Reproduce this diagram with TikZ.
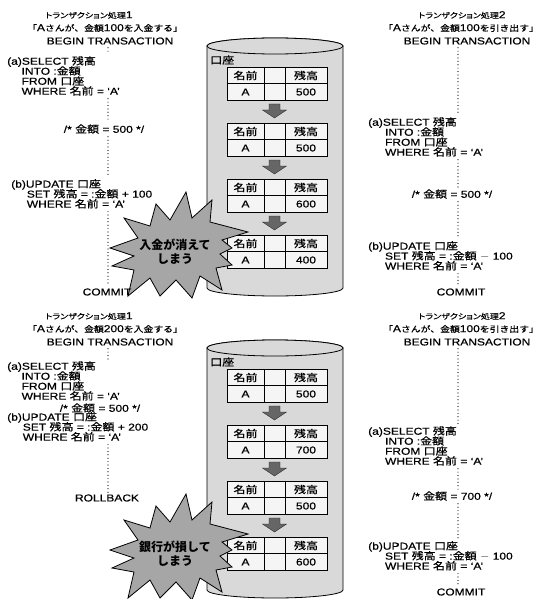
\documentclass[tikz,border=0pt]{standalone}
\usepackage{fontspec}
\setmainfont[FakeBold=0.6]{Liberation Sans}
\newfontfamily\jp[Scale=0.82, FakeBold=0.5]{Noto Sans CJK JP}
\newfontfamily\jpc[FakeBold=0.5]{Noto Sans CJK JP}
\newfontfamily\jpp[RawFeature=+palt, FakeBold=0.5]{Noto Sans CJK JP}
\newfontfamily\jpb{Noto Sans CJK JP}
\newcommand{\jt}[1]{{\jp #1}}
\newcommand{\jc}[1]{{\jpc #1}}
\newcommand{\codefont}{\fontsize{10}{10}\selectfont\lineskiplimit=-20pt\relax}
\begin{document}
\begin{tikzpicture}[x=1pt, y=-1pt,
  wide/.style={transform shape, xscale=1.2},
  code/.style={wide, font=\codefont, align=left, inner sep=0pt, anchor=north west},
  ttl/.style={wide, font=\fontsize{10}{10}\selectfont, inner sep=0pt},
  cell/.style={wide, font=\fontsize{10}{10}\selectfont, inner sep=0pt},
  dots/.style={line width=1.2pt, line cap=round, dash pattern=on 0pt off 3.4pt, shorten <=3pt, shorten >=2pt},
  cyl/.style={draw=black, line width=0.8pt, fill=black!15},
  tbl/.style={draw=black, line width=0.8pt, fill=black!4},
  blk/.style={draw=black!85, fill=black!60, line width=0.4pt},
  burst/.style={draw=black, line width=0.8pt, fill=black!35},
  shout/.style={font=\fontsize{12}{14}\selectfont\jpb\bfseries, align=center, inner sep=0pt}]
  \useasboundingbox (0,0) rectangle (539,599);
  \coordinate (dl) at (108,0);
  \coordinate (dr) at (458,0);
  % accounts table in the database, once per case
  \foreach \s/\va/\vb/\vc/\vd [count=\p] in {0/500/500/600/400, 302/500/700/500/600} {
    \draw[cyl] (207,\s+46) -- (207,\s+288) arc[start angle=180, end angle=360, x radius=68pt, y radius=8pt]
      -- (343,\s+46) arc[start angle=0, end angle=180, x radius=68pt, y radius=8pt] -- cycle;
    \draw[cyl] (275,\s+46) ellipse[x radius=68pt, y radius=8pt];
    \node[cell, anchor=west] (acct\p) at (210,\s+60) {\jc{口座}};
    \foreach \k/\v in {0/\va, 1/\vb, 2/\vc, 3/\vd} {
      \draw[tbl] (227,\s+67+56*\k) rectangle (327,\s+100+56*\k);
      \draw[line width=0.8pt] (227,\s+83.5+56*\k) -- (327,\s+83.5+56*\k)
        (264,\s+67+56*\k) -- (264,\s+100+56*\k) (285,\s+67+56*\k) -- (285,\s+100+56*\k);
      \node[cell] (nm\p\k) at (245.5,\s+75.5+56*\k) {\jc{名前}};
      \node[cell] (bl\p\k) at (306,\s+75.5+56*\k) {\jc{残高}};
      \node[cell] (ka\p\k) at (245.5,\s+92+56*\k) {A};
      \node[cell] (va\p\k) at (306,\s+92+56*\k) {\v};
    }
    \foreach \k in {0,1,2}
      \draw[blk] (269,\s+104+56*\k) -- (280,\s+104+56*\k) -- (280,\s+110+56*\k) -- (286.5,\s+110+56*\k)
        -- (274.5,\s+118+56*\k) -- (262.5,\s+110+56*\k) -- (269,\s+110+56*\k) -- cycle;
    % burst over the last table
    \draw[burst] (110,\s+248) -- (138,\s+238) -- (124,\s+218) -- (150,\s+226) -- (156,\s+204) -- (170,\s+220)
      -- (186,\s+192) -- (192,\s+218) -- (212,\s+200) -- (210,\s+222) -- (248,\s+232) -- (222,\s+240)
      -- (232,\s+248) -- (220,\s+254) -- (232,\s+265) -- (216,\s+268) -- (222,\s+290) -- (200,\s+276)
      -- (192,\s+298) -- (176,\s+280) -- (160,\s+296) -- (150,\s+278) -- (128,\s+296) -- (134,\s+270)
      -- (112,\s+266) -- (134,\s+256) -- cycle;
  }
  \node[shout] (sh1) at (175,252) {入金が消えて\\しまう};
  \node[shout] (sh2) at (175,554) {銀行が損して\\しまう};

  % case 1, transaction 1
  \node[ttl] (t1a) at (89,15) {{\jpp\fontsize{7.5}{10}\selectfont トランザクション処理}1};
  \node[ttl] (t1b) at (105,28) {\jt{「}A\jt{さんが、金額}100\jt{を入金する」}};
  \node[ttl] (t1c) at (110,41) {BEGIN TRANSACTION};
  \node[code] (a1) at (7,56) {(a)SELECT \jc{残高}\\\kern12pt INTO :\jc{金額}\\\kern12pt FROM \jc{口座}\\\kern12pt WHERE \jc{名前} = ‘A’};
  \node[ttl] (c1) at (104,129) {/* \jc{金額} = 500 */};
  \node[code] (b1) at (11,179) {(b)UPDATE \jc{口座}\\\kern13pt SET \jc{残高} = :\jc{金額} + 100\\\kern13pt WHERE \jc{名前} = ‘A’};
  \node[ttl] (cm1) at (107,292) {COMMIT};
  % case 1, transaction 2
  \node[ttl] (t2a) at (462,15) {{\jpp\fontsize{7.5}{10}\selectfont トランザクション処理}2};
  \node[ttl] (t2b) at (461,28) {\jt{「}A\jt{さんが、金額}100\jt{を引き出す」}};
  \node[ttl] (t2c) at (467,41) {BEGIN TRANSACTION};
  \node[code] (a2) at (368,117) {(a)SELECT \jc{残高}\\\kern14pt INTO :\jc{金額}\\\kern14pt FROM \jc{口座}\\\kern14pt WHERE \jc{名前} = ‘A’};
  \node[ttl] (c2) at (452,194) {/* \jc{金額} = 500 */};
  \node[code] (b2) at (368,241) {(b)UPDATE \jc{口座}\\\kern14pt SET \jc{残高} = :\jc{金額} $-$ 100\\\kern14pt WHERE \jc{名前} = ‘A’};
  \node[ttl] (cm2) at (461,292) {COMMIT};
  % case 2, transaction 1
  \node[ttl] (t3a) at (89,316) {{\jpp\fontsize{7.5}{10}\selectfont トランザクション処理}1};
  \node[ttl] (t3b) at (105,329) {\jt{「}A\jt{さんが、金額}200\jt{を入金する」}};
  \node[ttl] (t3c) at (110,342) {BEGIN TRANSACTION};
  \node[code] (a3) at (7,361) {(a)SELECT \jc{残高}\\\kern12pt INTO :\jc{金額}\\\kern12pt FROM \jc{口座}\\\kern12pt WHERE \jc{名前} = ‘A’};
  \node[ttl] (c3) at (100,408) {/* \jc{金額} = 500 */};
  \node[code] (b3) at (7,412) {(b)UPDATE \jc{口座}\\\kern13pt SET \jc{残高} = :\jc{金額} + 200\\\kern13pt WHERE \jc{名前} = ‘A’};
  \node[ttl] (rb3) at (107,498) {ROLLBACK};
  % case 2, transaction 2
  \node[ttl] (t4a) at (462,316) {{\jpp\fontsize{7.5}{10}\selectfont トランザクション処理}2};
  \node[ttl] (t4b) at (461,329) {\jt{「}A\jt{さんが、金額}100\jt{を引き出す」}};
  \node[ttl] (t4c) at (467,342) {BEGIN TRANSACTION};
  \node[code] (a4) at (368,426) {(a)SELECT \jc{残高}\\\kern14pt INTO :\jc{金額}\\\kern14pt FROM \jc{口座}\\\kern14pt WHERE \jc{名前} = ‘A’};
  \node[ttl] (c4) at (452,496) {/* \jc{金額} = 700 */};
  \node[code] (b4) at (368,541) {(b)UPDATE \jc{口座}\\\kern14pt SET \jc{残高} = :\jc{金額} $-$ 100\\\kern14pt WHERE \jc{名前} = ‘A’};
  \node[ttl] (cm4) at (461,592) {COMMIT};

  % time runs down the dotted lines
  \foreach \a/\b in {t1c/a1, a1/c1, c1/b1, b1/cm1, t3c/a3, b3/rb3}
    \draw[dots] (\a.south -| dl) -- (\b.north -| dl);
  \foreach \a/\b in {t2c/a2, a2/c2, c2/b2, b2/cm2, t4c/a4, a4/c4, c4/b4, b4/cm4}
    \draw[dots] (\a.south -| dr) -- (\b.north -| dr);
\end{tikzpicture}
\end{document}
